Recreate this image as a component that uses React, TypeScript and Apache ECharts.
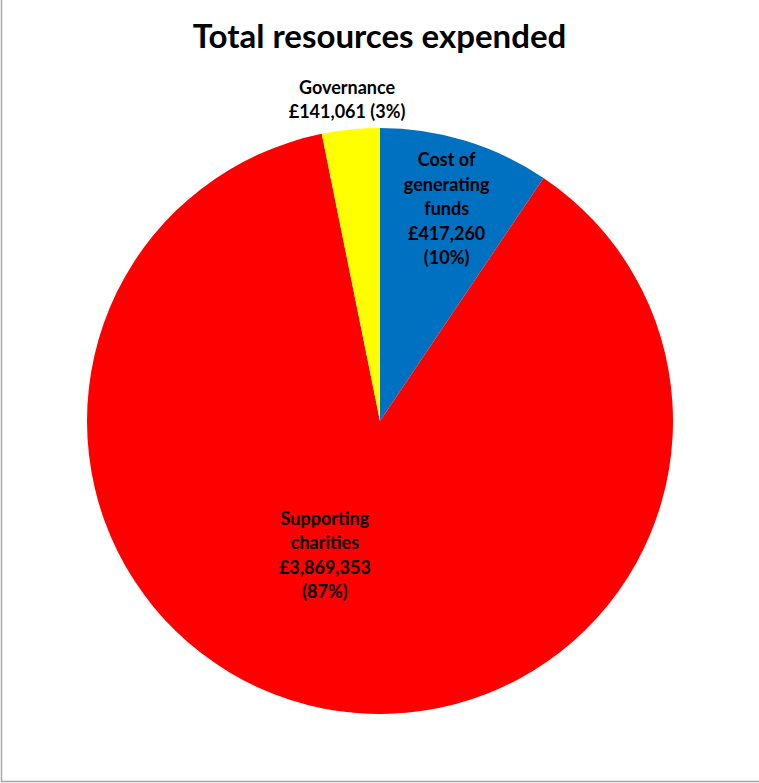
import React, { useEffect, useRef } from "react";
import * as echarts from "echarts";

const titleText = "Total resources expended";
const categories = ["Cost of\ngenerating\nfunds", "Supporting\ncharities", "Governance"];
const values = [417260, 3869353, 141061];
const colors = ["#0070C0", "#FF0000", "#FFFF00"];
const valueSeparators = ["\n", "\n", " "];
const labelShift: [number, number][] = [
  [23, -70],
  [-26, -13],
  [-18, -173],
];

const fmt = (v: number) => "£" + v.toLocaleString("en-GB");

export default function App() {
  const ref = useRef<HTMLDivElement>(null);
  useEffect(() => {
    document.body.style.margin = "0";
    const chart = echarts.init(ref.current!, null, { renderer: "svg" });
    chart.setOption({
      animation: false,
      backgroundColor: "#FFFFFF",
      title: {
        text: titleText,
        left: "center",
        top: 13,
        textStyle: { fontFamily: "Lato", fontWeight: "bold", fontSize: 33, color: "#000" },
      },
      graphic: [
        { type: "line", shape: { x1: 1.5, y1: 0, x2: 1.5, y2: 782 }, style: { stroke: "#A6A6A6", lineWidth: 1.5 } },
        { type: "line", shape: { x1: 1, y1: 781.5, x2: 759, y2: 781.5 }, style: { stroke: "#A6A6A6", lineWidth: 1.5 } },
      ],
      series: [
        {
          type: "pie",
          center: [380, 421],
          radius: [0, 293],
          startAngle: 90,
          clockwise: true,
          percentPrecision: 0,
          itemStyle: { borderWidth: 0 },
          label: {
            show: true,
            position: "inside",
            fontFamily: "Lato",
            fontWeight: "bold",
            fontSize: 18,
            lineHeight: 24.5,
            color: "#000",
            align: "center",
            formatter: (p: any) =>
              p.name + "\n" + fmt(p.value) + valueSeparators[p.dataIndex] + "(" + p.percent + "%)",
          },
          labelLine: { show: false },
          labelLayout: (p: any) => ({ dx: labelShift[p.dataIndex][0], dy: labelShift[p.dataIndex][1] }),
          emphasis: { disabled: true },
          data: categories.map((c, i) => ({ name: c, value: values[i], itemStyle: { color: colors[i] } })),
        },
      ],
    });
    return () => chart.dispose();
  }, []);
  return <div ref={ref} style={{ width: 759, height: 783 }} />;
}
